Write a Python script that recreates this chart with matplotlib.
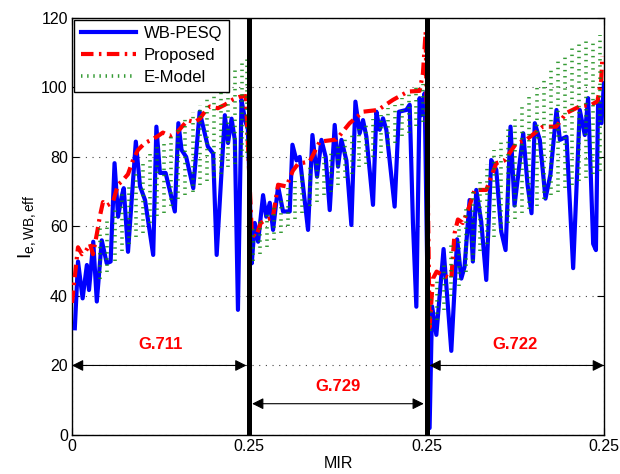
import numpy as np
import matplotlib
matplotlib.use('Agg')
import matplotlib.pyplot as plt

plt.rcParams['font.family'] = ['Liberation Sans', 'DejaVu Sans']
plt.rcParams['mathtext.fontset'] = 'custom'
plt.rcParams['mathtext.rm'] = 'Liberation Sans'
plt.rcParams['mathtext.it'] = 'Liberation Sans'

# MIR runs 0..0.25 for each codec, the three codecs are plotted one after another
codecs = ['G.711', 'G.729', 'G.722']
seg_width = 0.25

# WB-PESQ (blue), per codec: MIR and value
pesq_mir = [
    [0.004, 0.0085, 0.015, 0.021, 0.024, 0.030, 0.035, 0.042, 0.049, 0.0545, 0.060, 0.065, 0.070,
     0.073, 0.079, 0.090, 0.096, 0.103, 0.1145, 0.119, 0.124, 0.132, 0.145, 0.150, 0.1545, 0.161,
     0.171, 0.180, 0.1915, 0.199, 0.204, 0.2155, 0.220, 0.225, 0.2296, 0.234, 0.239, 0.244, 0.248],
    [0.0035, 0.0077, 0.0124, 0.0194, 0.0239, 0.0289, 0.0335, 0.0406, 0.0476, 0.057, 0.0608, 0.0665,
     0.0711, 0.0828, 0.089, 0.0955, 0.1017, 0.1077, 0.1134, 0.1204, 0.1251, 0.1299, 0.1369, 0.1439,
     0.1496, 0.1556, 0.1603, 0.1651, 0.1744, 0.1792, 0.1838, 0.1885, 0.1932, 0.2049, 0.211, 0.2214,
     0.2261, 0.2307, 0.2355, 0.2401, 0.2425, 0.2472],
    [0.0042, 0.0077, 0.0137, 0.0239, 0.0348, 0.043, 0.0489, 0.0535, 0.0606, 0.0652, 0.070, 0.077,
     0.0841, 0.0911, 0.0982, 0.1052, 0.1113, 0.1183, 0.1239, 0.1362, 0.1423, 0.1479, 0.1525, 0.1596,
     0.1676, 0.1746, 0.1831, 0.1879, 0.1972, 0.2066, 0.2159, 0.223, 0.2277, 0.2348, 0.2387, 0.2418,
     0.2465, 0.2500],
]
pesq_val = [
    [30.7, 49.9, 39.3, 48.9, 41.7, 55.6, 38.4, 56, 49.4, 49.9, 78.2, 62.8, 68.6,
     71, 52.7, 84.4, 71.5, 67.6, 51.8, 88.7, 75.4, 75.4, 64.3, 89.7, 82, 80,
     71, 93, 83, 81, 51.8, 92, 84, 91, 84.9, 36, 96.4, 90.6, 88],
    [49.4, 61, 55.6, 69, 62.8, 66.8, 59, 71.5, 64.3, 64.3, 83.5, 79,
     80, 59, 86.3, 74.3, 84.9, 80, 64.7, 89.2, 77.2, 84.9, 79, 60.4,
     95.9, 86.8, 90.6, 85.8, 66.2, 93, 87.8, 91.1, 87.8, 65.7, 93, 93.5,
     95, 61, 36.9, 96.9, 92, 98.3],
    [2, 37, 28.8, 53.5, 24.2, 56.3, 45, 48.4, 67.6, 49.9, 70.5, 61.4,
     44.6, 79.1, 76.3, 58.5, 53.2, 88.7, 66, 86.8, 72, 63.8, 89.7, 84.9,
     68, 75, 93.5, 84.9, 85.8, 48, 93.5, 86.3, 96.9, 55, 53.2, 96.4,
     89.7, 101.2],
]

# Proposed (red)
prop_mir = [
    [0.0, 0.0042, 0.0085, 0.0141, 0.0197, 0.0254, 0.0296, 0.0352, 0.0394, 0.0437, 0.0493, 0.0577,
     0.0648, 0.0704, 0.0789, 0.0859, 0.093, 0.1028, 0.1127, 0.1211, 0.1282, 0.138, 0.1479, 0.1563,
     0.1634, 0.1732, 0.1803, 0.1873, 0.1944, 0.2056, 0.2155, 0.2268, 0.2366, 0.2451],
    [0.0035, 0.0092, 0.0162, 0.0239, 0.0331, 0.0406, 0.0524, 0.0613, 0.0687, 0.0852, 0.0993, 0.1228,
     0.1415, 0.1603, 0.1814, 0.2025, 0.2237, 0.2401, 0.2448, 0.2486],
    [0.0042, 0.0089, 0.0141, 0.0225, 0.0348, 0.0394, 0.0441, 0.0511, 0.0606, 0.0676, 0.0841, 0.0982,
     0.1099, 0.1263, 0.1404, 0.1638, 0.1827, 0.1968, 0.2155, 0.2324, 0.2408, 0.2461, 0.2479],
]
prop_val = [
    [38, 46, 54, 52, 53, 55, 52, 58, 63, 67, 66, 67,
     72, 73, 75, 79, 82, 84, 85, 86, 87, 86, 87, 89,
     90.5, 90, 91, 93, 94.5, 94, 95, 96.5, 97.3, 97.5],
    [58, 57, 61, 62, 62.5, 72, 71.5, 76, 78, 78.7, 84.4, 85,
     89.7, 93, 93.5, 96.4, 98.8, 99, 104, 116],
    [31, 45, 47, 46, 45, 58, 62, 61, 66, 70.5, 70.5, 78.2,
     79, 83.9, 84.9, 88.7, 88.7, 92.6, 94.5, 95, 96, 102, 109],
]

# E-Model (green): spread of values at each MIR column, low and high
emod_mir = [
    [0.040, 0.050, 0.060, 0.070, 0.080, 0.090, 0.100, 0.110, 0.120, 0.130, 0.140,
     0.150, 0.160, 0.170, 0.180, 0.190, 0.200, 0.210, 0.220, 0.230, 0.240, 0.247],
    [0.005, 0.015, 0.025, 0.035, 0.045, 0.055, 0.065, 0.075, 0.085, 0.095, 0.105, 0.115,
     0.125, 0.135, 0.145, 0.155, 0.165, 0.175, 0.185, 0.195, 0.205, 0.215, 0.225, 0.235, 0.245],
    [0.005, 0.015, 0.025, 0.035, 0.045, 0.055, 0.065, 0.075, 0.085, 0.095, 0.105, 0.115,
     0.125, 0.135, 0.145, 0.155, 0.165, 0.175, 0.185, 0.195, 0.205, 0.215, 0.225, 0.235, 0.245],
]
emod_low = [
    [45, 47, 50, 53, 55, 57, 58, 61, 63, 64, 66, 68, 69, 70, 72, 73, 74, 75, 77, 78, 80, 81],
    [50, 52, 54, 56, 58, 60, 62, 64, 66, 67, 69, 70, 72, 74, 75, 77, 78, 80, 81, 83, 84, 86, 87, 89, 90],
    [30, 33, 36, 40, 43, 47, 50, 53, 55, 57, 59, 61, 62, 64, 65, 66, 68, 69, 70, 71, 72, 73, 74, 75, 76],
]
emod_high = [
    [60, 62, 66, 70, 72, 76, 79, 81, 84, 85, 87, 89, 91, 93, 95, 97, 100, 102, 104, 106, 108, 109],
    [60, 62, 64, 66, 68, 71, 73, 75, 77, 79, 80, 82, 84, 86, 87, 88, 90, 91, 92, 94, 95, 97, 98, 100, 101],
    [40, 45, 50, 55, 60, 65, 70, 74, 78, 82, 85, 88, 91, 95, 98, 100, 103, 106, 108, 110, 112, 113, 114, 114, 115],
]

# arrows under each codec: y level of the arrow and of the label
arrow_y = [20, 9, 20]
label_y = [26, 14, 26]


def joined(mirs, vals):
    xs, ys = [], []
    for k in range(len(mirs)):
        xs += [k * seg_width + m for m in mirs[k]]
        ys += list(vals[k])
    return np.array(xs), np.array(ys)


fig = plt.figure(figsize=(6.2, 4.74), dpi=100)
ax = fig.add_axes([0.1161, 0.0823, 0.858, 0.880])

px, py = joined(pesq_mir, pesq_val)
rx, ry = joined(prop_mir, prop_val)
ex, elo = joined(emod_mir, emod_low)
_, ehi = joined(emod_mir, emod_high)

ax.plot(px, py, color='#0000ff', lw=3.0, label='WB-PESQ', zorder=3)
ax.plot(rx, ry, color='#ff0000', lw=3.0, linestyle=(0, (3.0, 1.3, 0.6, 1.3)),
        label='Proposed', zorder=4)
ax.vlines(ex, elo, ehi, colors='#138a13', linewidth=2.6, linestyles=(0, (0.4, 1.3)),
          alpha=0.85, label='E-Model', zorder=4)

# codec boundaries
for k in range(1, len(codecs)):
    ax.axvline(k * seg_width, color='black', lw=3.6, zorder=6)

# arrows and codec names
for k, name in enumerate(codecs):
    x0 = k * seg_width + (0.004 if k > 0 else 0.0)
    x1 = (k + 1) * seg_width - (0.004 if k < len(codecs) - 1 else 0.0)
    ax.annotate('', xy=(x0, arrow_y[k]), xytext=(x1, arrow_y[k]),
                arrowprops=dict(arrowstyle='<|-|>', color='black', lw=0.8,
                                mutation_scale=17, shrinkA=0, shrinkB=0), zorder=7)
    ax.text(k * seg_width + 0.125, label_y[k], name, color='#ff0000', fontsize=12,
            fontweight='bold', ha='center', va='center', zorder=7)

ax.set_xlim(0, 3 * seg_width)
ax.set_ylim(0, 120)
ax.set_xticks([0, 0.25, 0.5, 0.75])
ax.set_xticklabels(['0', '0.25', '0.25', '0.25'])
ax.set_yticks(np.arange(0, 121, 20))
ax.tick_params(direction='in', top=True, right=True, labelsize=11.5, length=5, width=0.8, pad=3)
ax.grid(True, linestyle=(0, (1, 5)), color='#444444', lw=0.8)
for s in ax.spines.values():
    s.set_linewidth(1.0)

ax.set_xlabel('MIR', fontsize=11.5, labelpad=1)
ax.set_ylabel(r'$\mathregular{I_{e,WB,eff}}$', fontsize=14, labelpad=2)

leg = ax.legend(loc='upper left', bbox_to_anchor=(0.004, 0.996), borderaxespad=0,
                fontsize=12, handlelength=3.3, labelspacing=0.42, fancybox=False,
                framealpha=1, edgecolor='black', borderpad=0.4, handletextpad=0.5)
leg.get_frame().set_linewidth(1.0)
leg.set_zorder(10)

fig.savefig('out.png', dpi=100)
